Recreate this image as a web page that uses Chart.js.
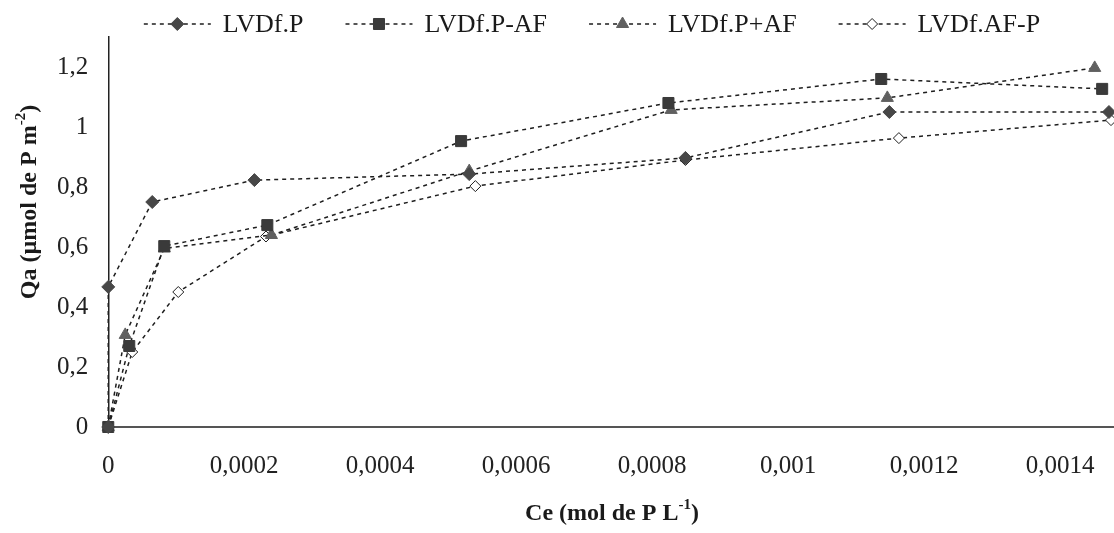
<!DOCTYPE html>
<html>
<head>
<meta charset="utf-8">
<script src="https://cdn.jsdelivr.net/npm/chart.js@4.4.1/dist/chart.umd.min.js"></script>
<style>
  html, body { margin: 0; padding: 0; background: #fff; overflow: hidden; }
  #wrap { width: 1140px; height: 533px; position: relative; }
</style>
</head>
<body>
<div id="wrap"><canvas id="chart"></canvas></div>
<script>
// Series names
const seriesNames = ['LVDf.P', 'LVDf.P-AF', 'LVDf.P+AF', 'LVDf.AF-P'];

// Equilibrium concentration Ce (mol de P L-1) and adsorbed amount Qa (µmol de P m-2)
const ceP    = [0, 0, 0.0000647, 0.000215, 0.000531, 0.000849, 0.001149, 0.001472];
const qaP    = [0, 0.467, 0.75, 0.823, 0.843, 0.897, 1.05, 1.05];

const cePmAF = [0, 0.0000309, 0.0000824, 0.000234, 0.000519, 0.000824, 0.001137, 0.001462];
const qaPmAF = [0, 0.27, 0.603, 0.673, 0.953, 1.08, 1.16, 1.127];

const cePpAF = [0, 0.000025, 0.0000824, 0.00024, 0.000531, 0.000828, 0.001146, 0.001451];
const qaPpAF = [0, 0.307, 0.595, 0.64, 0.853, 1.057, 1.097, 1.197];

const ceAFP  = [0, 0.0000353, 0.000103, 0.000232, 0.00054, 0.000849, 0.001163, 0.001475];
const qaAFP  = [0, 0.25, 0.45, 0.635, 0.803, 0.89, 0.963, 1.023];

// Axis tick labels
const xTickLabels = ['0', '0,0002', '0,0004', '0,0006', '0,0008', '0,001', '0,0012', '0,0014'];
const yTickLabels = ['0', '0,2', '0,4', '0,6', '0,8', '1', '1,2'];

const toPoints = (xs, ys) => xs.map((x, i) => ({ x: x, y: ys[i] }));
const labelValue = l => parseFloat(l.replace(',', '.'));

const LINE_COLOR = '#1e1e1e';
const DASH = [4, 4];

const markerStyles = [
  { pointStyle: 'rectRot',  radius: 6.5, fill: '#474747', stroke: '#474747' },
  { pointStyle: 'rect',     radius: 7.8, fill: '#3a3a3a', stroke: '#3a3a3a' },
  { pointStyle: 'triangle', radius: 7,   fill: '#606060', stroke: '#606060' },
  { pointStyle: 'rectRot',  radius: 5.5, fill: '#ffffff', stroke: '#1e1e1e' }
];

const seriesData = [
  toPoints(ceP, qaP),
  toPoints(cePmAF, qaPmAF),
  toPoints(cePpAF, qaPpAF),
  toPoints(ceAFP, qaAFP)
];

const datasets = seriesNames.map((name, i) => ({
  label: name,
  data: seriesData[i],
  showLine: true,
  borderColor: LINE_COLOR,
  borderWidth: 1.5,
  borderDash: DASH,
  tension: 0,
  pointStyle: markerStyles[i].pointStyle,
  pointRadius: markerStyles[i].radius,
  pointHoverRadius: markerStyles[i].radius,
  pointBackgroundColor: markerStyles[i].fill,
  pointBorderColor: markerStyles[i].stroke,
  pointBorderWidth: 1,
  clip: false
}));

const SERIF = "'Liberation Serif', 'DejaVu Serif', serif";

// Legend: dashed line sample with its marker, then the series name
const legendPlugin = {
  id: 'lineLegend',
  afterDraw(chart) {
    const ctx = chart.ctx;
    const sampleW = 67, gapText = 12, gapItem = 42, cy = 24;
    const font = '26px ' + SERIF;
    ctx.save();
    ctx.font = font;
    const widths = chart.data.datasets.map(ds => sampleW + gapText + ctx.measureText(ds.label).width);
    const total = widths.reduce((a, b) => a + b, 0) + gapItem * (widths.length - 1);
    let x = 592 - total / 2;
    chart.data.datasets.forEach((ds, i) => {
      ctx.save();
      ctx.strokeStyle = LINE_COLOR;
      ctx.lineWidth = 1.5;
      ctx.setLineDash(DASH);
      ctx.beginPath();
      ctx.moveTo(x, cy);
      ctx.lineTo(x + sampleW, cy);
      ctx.stroke();
      ctx.restore();
      ctx.save();
      ctx.fillStyle = ds.pointBackgroundColor;
      ctx.strokeStyle = ds.pointBorderColor;
      ctx.lineWidth = 1;
      ctx.setLineDash([]);
      Chart.helpers.drawPoint(ctx, { pointStyle: ds.pointStyle, radius: ds.pointRadius, borderWidth: 1, rotation: 0 }, x + sampleW / 2, cy);
      ctx.restore();
      ctx.fillStyle = '#1a1a1a';
      ctx.textBaseline = 'middle';
      ctx.textAlign = 'left';
      ctx.font = font;
      ctx.fillText(ds.label, x + sampleW + gapText, cy + 1);
      x += widths[i] + gapItem;
    });
    ctx.restore();
  }
};

// Axis titles with raised exponents
function drawWithSup(ctx, parts, x, y) {
  const big = 'bold 24px ' + SERIF, small = 'bold 15px ' + SERIF;
  let w = 0;
  parts.forEach(p => { ctx.font = p.sup ? small : big; w += ctx.measureText(p.t).width; });
  let cx = x - w / 2;
  parts.forEach(p => {
    ctx.font = p.sup ? small : big;
    ctx.fillText(p.t, cx, p.sup ? y - 9 : y);
    cx += ctx.measureText(p.t).width;
  });
}

const titlesPlugin = {
  id: 'axisTitles',
  afterDraw(chart) {
    const ctx = chart.ctx;
    ctx.save();
    ctx.fillStyle = '#1a1a1a';
    ctx.textBaseline = 'middle';
    ctx.textAlign = 'left';
    drawWithSup(ctx, [{ t: 'Ce (mol de P L' }, { t: '-1', sup: true }, { t: ')' }], 612, 514);
    ctx.translate(30, 202);
    ctx.rotate(-Math.PI / 2);
    drawWithSup(ctx, [{ t: 'Qa (\u00b5mol de P m' }, { t: '-2', sup: true }, { t: ')' }], 0, 0);
    ctx.restore();
  }
};

new Chart(document.getElementById('chart'), {
  type: 'scatter',
  data: { datasets: datasets },
  options: {
    responsive: true,
    maintainAspectRatio: false,
    animation: false,
    events: [],
    layout: { padding: { left: 37, right: 12, top: 37, bottom: 28 } },
    plugins: {
      legend: { display: false },
      tooltip: { enabled: false }
    },
    scales: {
      x: {
        type: 'linear',
        min: 0,
        max: 0.0015,
        grid: { display: false, drawTicks: false },
        border: { display: true, color: '#555555', width: 2 },
        afterBuildTicks: s => { s.ticks = xTickLabels.map(l => ({ value: labelValue(l) })); },
        ticks: {
          padding: 24,
          maxRotation: 0,
          autoSkip: false,
          color: '#222',
          font: { family: SERIF, size: 25 },
          callback: (v, i) => xTickLabels[i]
        }
      },
      y: {
        type: 'linear',
        min: 0,
        max: 1.3,
        grid: { display: false, drawTicks: false },
        border: { display: true, color: '#222222', width: 1.5 },
        afterBuildTicks: s => { s.ticks = yTickLabels.map(l => ({ value: labelValue(l) })); },
        ticks: {
          padding: 20,
          autoSkip: false,
          color: '#222',
          font: { family: SERIF, size: 25 },
          callback: (v, i) => yTickLabels[i]
        }
      }
    }
  },
  plugins: [legendPlugin, titlesPlugin]
});
</script>
</body>
</html>
